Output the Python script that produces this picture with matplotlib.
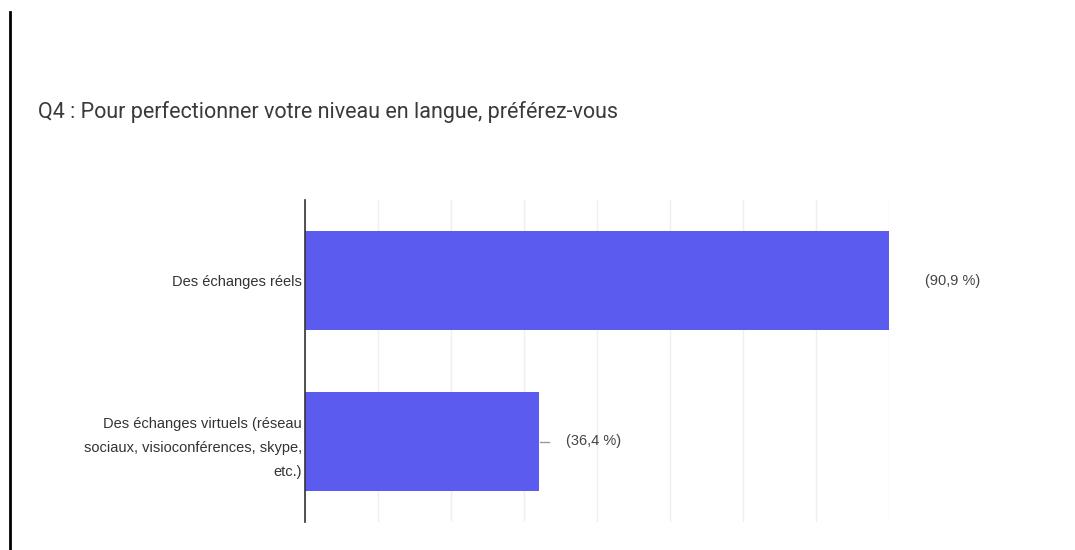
import numpy as np
import matplotlib
matplotlib.use("Agg")
from matplotlib import pyplot as plt
from matplotlib.lines import Line2D

# survey data (11 respondents)
categories = ["Des échanges réels",
              "Des échanges virtuels (réseau\nsociaux, visioconférences, skype,\netc.)"]
counts = [10, 4]
respondents = 11
title = "Q4 : Pour perfectionner votre niveau en langue, préférez-vous"

W, H = 1075, 550
fig = plt.figure(figsize=(W / 100, H / 100), dpi=100)
fig.patch.set_facecolor("white")

# axes in pixel coords: left 305, right 889 (value 10), top 200, bottom 522
ax = fig.add_axes([305 / W, 1 - 522 / H, (889 - 305) / W, (522 - 200) / H])
y = np.arange(len(categories))
ax.barh(y, counts, height=0.61, color="#5b5bf0", zorder=3)
ax.set_ylim(len(categories) - 0.5, -0.5)
ax.set_xlim(0, 10)
ax.set_xticks(np.arange(0, 10.01, 1.25))
ax.xaxis.grid(True, color="#efefef", linewidth=1, zorder=0)
ax.tick_params(axis="x", length=0, labelbottom=False)
ax.tick_params(axis="y", length=0, pad=2)
ax.set_yticks(y)
ax.set_yticklabels(categories, fontsize=10.5, color="#333333", family="Liberation Sans",
                   linespacing=1.9)
for s in ["top", "right", "bottom"]:
    ax.spines[s].set_visible(False)
ax.spines["left"].set_color("#333333")
ax.spines["left"].set_linewidth(1.2)
ax.spines["left"].set_zorder(4)

# percentage labels
for i, c in enumerate(counts):
    pct = f"({100 * c / respondents:.1f} %)".replace(".", ",")
    if c == max(counts):
        ax.text(c + 0.62, i, pct, va="center", ha="left", fontsize=10.5,
                color="#444444", family="Liberation Sans", clip_on=False)
    else:
        ax.plot([c + 0.03, c + 0.18], [i, i], color="#999999", lw=1, clip_on=False)
        ax.text(c + 0.47, i, pct, va="center", ha="left", fontsize=10.5,
                color="#444444", family="Liberation Sans", clip_on=False)

fig.text(38 / W, 1 - 112 / H, title, fontsize=15.5, color="#3a3a3a", family="Roboto",
         va="center", ha="left")

# black border line on the left of the screenshot
fig.add_artist(Line2D([10 / W, 10 / W], [0, 1 - 12 / H], transform=fig.transFigure,
                      color="black", lw=2))

fig.savefig("out.png", dpi=100, facecolor="white")
